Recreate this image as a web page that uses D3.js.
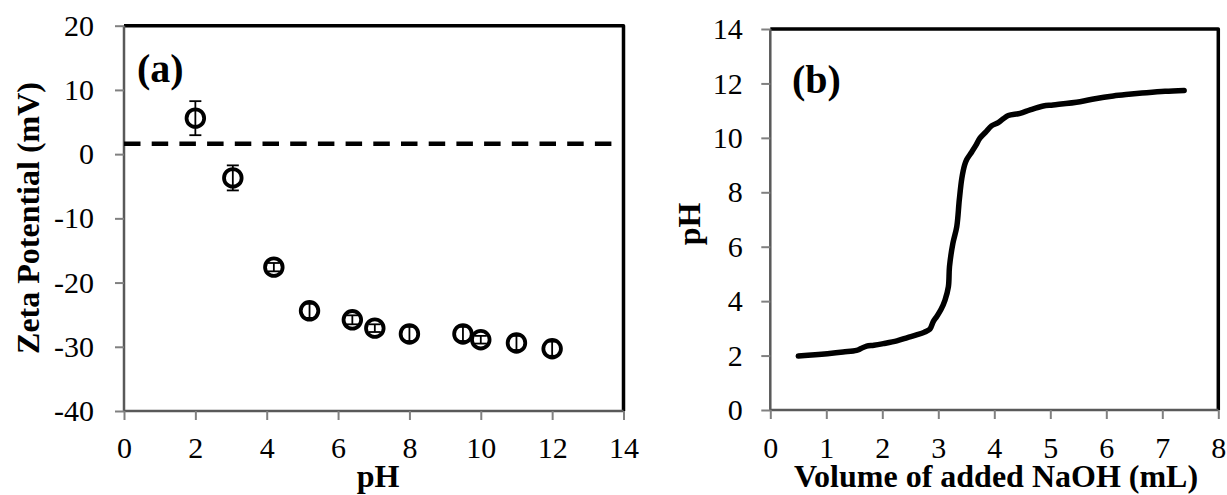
<!DOCTYPE html>
<html>
<head>
<meta charset="utf-8">
<script src="https://cdn.jsdelivr.net/npm/d3@7"></script>
<style>
  html, body { margin: 0; padding: 0; background: #fff; }
  svg text { font-family: "Liberation Serif", "Times New Roman", serif; fill: #000; }
</style>
</head>
<body>
<svg id="chart" width="1227" height="495"></svg>
<script>
// ---------- Data: panel (a) zeta potential ----------
const zetaPH    = [2, 3.05, 4.2, 5.2, 6.4, 7.03, 8, 9.5, 10, 11, 12];
const zetaMV    = [5.6, -3.7, -17.6, -24.4, -25.8, -27.1, -28.0, -28.0, -28.9, -29.4, -30.3];
const zetaErr   = [2.65, 1.95, 0.65, 1.1, 0.7, 0.6, 1.1, 1.1, 0.6, 1.1, 1.1];
const zeroLineMV = 1.6;
const zetaXTicks = [0, 2, 4, 6, 8, 10, 12, 14];
const zetaYTicks = [-40, -30, -20, -10, 0, 10, 20];

// ---------- Data: panel (b) titration curve ----------
const naohVol = [0.50, 0.80, 1.02, 1.30, 1.54, 1.62, 1.72, 1.85, 2.02, 2.26, 2.45, 2.61, 2.75, 2.85,
                 2.91, 2.97, 3.05, 3.12, 3.18, 3.20, 3.26, 3.33, 3.375, 3.42, 3.47, 3.51, 3.60, 3.67,
                 3.74, 3.85, 3.95, 4.07, 4.16, 4.25, 4.46, 4.64, 4.875, 5.05, 5.53, 5.80, 6.125,
                 6.40, 6.72, 7.05, 7.39];
const titrPH  = [1.98, 2.03, 2.07, 2.13, 2.19, 2.26, 2.35, 2.38, 2.44, 2.54, 2.66, 2.76, 2.86, 2.97,
                 3.25, 3.43, 3.70, 4.04, 4.53, 5.27, 6.12, 6.74, 7.72, 8.51, 9.00, 9.21, 9.49, 9.72,
                 9.98, 10.22, 10.44, 10.56, 10.70, 10.82, 10.90, 11.03, 11.17, 11.21, 11.33, 11.44, 11.54,
                 11.60, 11.66, 11.71, 11.74];
const titrXTicks = [0, 1, 2, 3, 4, 5, 6, 7, 8];
const titrYTicks = [0, 2, 4, 6, 8, 10, 12, 14];

const svg = d3.select("#chart");
const FONT_TICK = 30, FONT_TITLE = 32, FONT_PANEL = 40;

function styleAxis(g) {
  g.select(".domain").attr("stroke", "#595959").attr("stroke-width", 2.5);
  g.selectAll(".tick line").attr("stroke", "#808080").attr("stroke-width", 2);
  g.selectAll(".tick text").attr("fill", "#000")
    .style("font-size", FONT_TICK + "px")
    .style("font-family", '"Liberation Serif","Times New Roman",serif');
}

function frame(x0, x1, y0, y1) {
  // top and right border of plot area
  svg.append("path")
    .attr("d", `M${x0},${y0}L${x1},${y0}L${x1},${y1}`)
    .attr("fill", "none").attr("stroke", "#000").attr("stroke-width", 3.5)
    .attr("stroke-linejoin", "round");
}

// ================= Panel (a) =================
{
  const L = 124, R = 623.5, T = 25.7, B = 411;
  const x = d3.scaleLinear().domain([0, 14]).range([L, R]);
  const y = d3.scaleLinear().domain([-40, 20]).range([B, T]);

  frame(L, R, T, B);

  const gx = svg.append("g").attr("transform", `translate(0,${B})`)
    .call(d3.axisBottom(x).tickValues(zetaXTicks).tickFormat(d3.format("d"))
      .tickSize(9).tickSizeOuter(0).tickPadding(16.5));
  styleAxis(gx);
  const gy = svg.append("g").attr("transform", `translate(${L},0)`)
    .call(d3.axisLeft(y).tickValues(zetaYTicks).tickFormat(d => d < 0 ? "-" + Math.abs(d) : d)
      .tickSize(9).tickSizeOuter(0).tickPadding(21));
  styleAxis(gy);
  gx.select(".domain").attr("d", `M${L},0H${R}`);
  gy.select(".domain").attr("d", `M0,${B}V${T}`);

  // dashed line
  svg.append("line")
    .attr("x1", x(0)).attr("x2", x(13.68))
    .attr("y1", y(zeroLineMV)).attr("y2", y(zeroLineMV))
    .attr("stroke", "#000").attr("stroke-width", 4.5)
    .attr("stroke-dasharray", "16.5,11.2");

  const pts = zetaPH.map((p, i) => ({ p, v: zetaMV[i], e: zetaErr[i] }));
  const eb = svg.append("g").attr("stroke", "#000").attr("stroke-width", 1.8).attr("fill", "none");
  pts.forEach(d => {
    const cx = x(d.p), yt = y(d.v + d.e), yb = y(d.v - d.e);
    eb.append("line").attr("x1", cx).attr("x2", cx).attr("y1", yt).attr("y2", yb);
    eb.append("line").attr("x1", cx - 6).attr("x2", cx + 6).attr("y1", yt).attr("y2", yt);
    eb.append("line").attr("x1", cx - 6).attr("x2", cx + 6).attr("y1", yb).attr("y2", yb);
  });
  svg.append("g").selectAll("circle").data(pts).join("circle")
    .attr("cx", d => x(d.p)).attr("cy", d => y(d.v)).attr("r", 8.8)
    .attr("fill", "none").attr("stroke", "#000").attr("stroke-width", 3.8);

  svg.append("text").attr("x", 137).attr("y", 82)
    .attr("font-size", FONT_PANEL).attr("font-weight", "bold").text("(a)");
  svg.append("text").attr("x", 378).attr("y", 487).attr("text-anchor", "middle")
    .attr("font-size", FONT_TITLE).attr("font-weight", "bold").text("pH");
  svg.append("text").attr("transform", "translate(39,218) rotate(-90)").attr("text-anchor", "middle")
    .attr("font-size", FONT_TITLE).attr("font-weight", "bold").text("Zeta Potential (mV)");
}

// ================= Panel (b) =================
{
  const L = 770.3, R = 1218.3, T = 29, B = 410;
  const x = d3.scaleLinear().domain([0, 8]).range([L, R]);
  const y = d3.scaleLinear().domain([0, 14]).range([B, T]);

  frame(L, R, T, B);

  const gx = svg.append("g").attr("transform", `translate(0,${B})`)
    .call(d3.axisBottom(x).tickValues(titrXTicks).tickFormat(d3.format("d"))
      .tickSize(9).tickSizeOuter(0).tickPadding(17.5));
  styleAxis(gx);
  const gy = svg.append("g").attr("transform", `translate(${L},0)`)
    .call(d3.axisLeft(y).tickValues(titrYTicks).tickFormat(d3.format("d"))
      .tickSize(9).tickSizeOuter(0).tickPadding(18.5));
  styleAxis(gy);
  gx.select(".domain").attr("d", `M${L},0H${R}`);
  gy.select(".domain").attr("d", `M0,${B}V${T}`);

  const line = d3.line().x(d => x(d[0])).y(d => y(d[1])).curve(d3.curveCatmullRom.alpha(0.5));
  svg.append("path").datum(naohVol.map((v, i) => [v, titrPH[i]]))
    .attr("d", line).attr("fill", "none").attr("stroke", "#000")
    .attr("stroke-width", 5.5).attr("stroke-linecap", "round").attr("stroke-linejoin", "round");

  svg.append("text").attr("x", 792).attr("y", 93)
    .attr("font-size", FONT_PANEL).attr("font-weight", "bold").text("(b)");
  svg.append("text").attr("x", 996).attr("y", 487).attr("text-anchor", "middle")
    .attr("font-size", FONT_TITLE).attr("font-weight", "bold").text("Volume of added NaOH (mL)");
  svg.append("text").attr("transform", "translate(700,224) rotate(-90)").attr("text-anchor", "middle")
    .attr("font-size", FONT_TITLE).attr("font-weight", "bold").text("pH");
}
</script>
</body>
</html>
